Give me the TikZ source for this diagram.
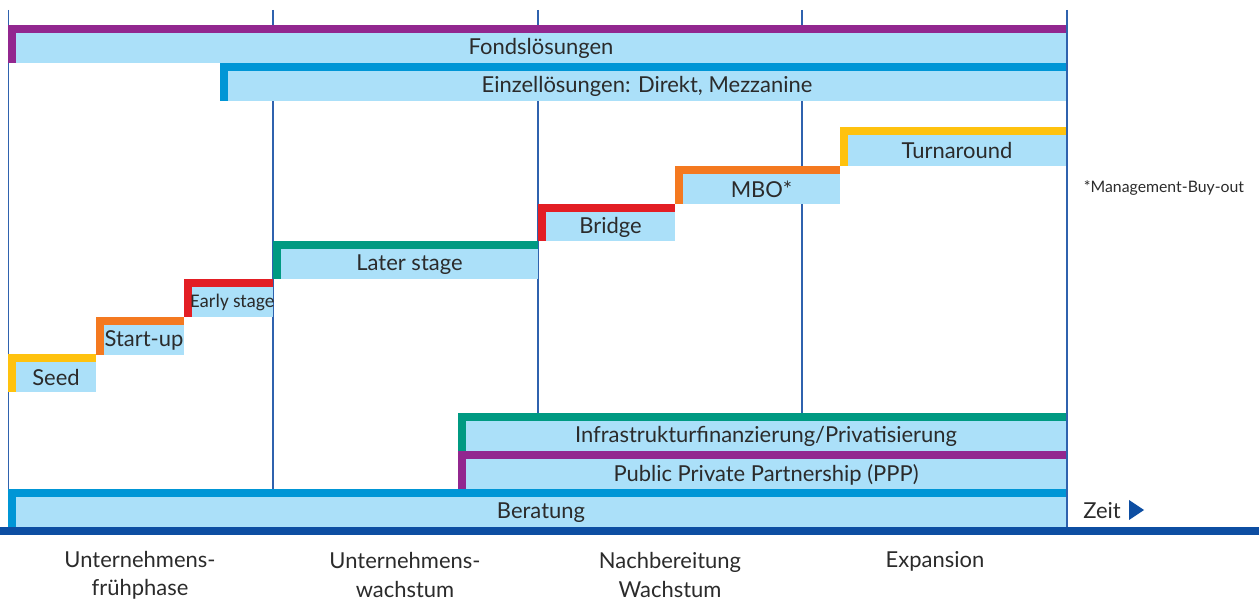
\documentclass[tikz,border=0pt]{standalone}
\usepackage{fontspec}
\setmainfont{Lato}
\newfontfamily\narrowfont{Carlito}
\usepackage{xcolor}
\usepackage{tikz}

\definecolor{barblue}{HTML}{ABE0F9}
\definecolor{cpurple}{HTML}{92278F}
\definecolor{cblue}{HTML}{0096D6}
\definecolor{cyellow}{HTML}{FFC20E}
\definecolor{corange}{HTML}{F47920}
\definecolor{cred}{HTML}{E31E24}
\definecolor{cteal}{HTML}{009A82}
\definecolor{gridblue}{HTML}{2F62AE}
\definecolor{darkblue}{HTML}{0D4EA2}
\definecolor{txt}{HTML}{2B2B2B}

% #1 name, #2 colour, #3 left, #4 top, #5 right, #6 bottom, #7 text
\newcommand{\phasebar}[7]{%
  \fill[barblue] (#3,#4) rectangle (#5,#6);
  \fill[#2] (#3,#4) rectangle (#5,#4+8);
  \fill[#2] (#3,#4) rectangle (#3+8,#6);
  \node[bartext] (#1) at ({(#3+8+#5)/2},{(#4+8+#6)/2+0.5}) {#7};
}

\begin{document}
\begin{tikzpicture}[
  x=0.02cm, y=-0.02cm,
  bartext/.style={inner sep=0pt, text=txt, font=\fontsize{12.5}{14}\selectfont},
  phase/.style={align=center, text=txt, font=\fontsize{12.5}{16}\selectfont},
  grid/.style={draw=gridblue, line width=1.1pt}
]
  \useasboundingbox (0,0) rectangle (1259,601);

  % grid
  \foreach \gx in {8.5,273,538,802,1067}
    \draw[grid] (\gx,10) -- (\gx,527);

  % bars
  \phasebar{fonds}{cpurple}{8}{25}{1066}{63}{Fondslösungen}
  \phasebar{einzel}{cblue}{220}{63}{1066}{101}{Einzellösungen: Direkt, Mezzanine}
  \phasebar{turn}{cyellow}{840}{127}{1066}{166}{Turnaround}
  \phasebar{mbo}{corange}{675}{166}{840}{204}{MBO*}
  \phasebar{bridge}{cred}{538}{204}{675}{241}{Bridge}
  \phasebar{later}{cteal}{273}{241}{538}{279}{Later stage}
  \phasebar{early}{cred}{184}{279}{273}{317}{\narrowfont\fontsize{11}{13}\selectfont Early stage}
  \phasebar{startup}{corange}{96}{317}{184}{355}{Start-up}
  \phasebar{seed}{cyellow}{8}{354}{96}{392}{Seed}
  \phasebar{infra}{cteal}{458}{413}{1066}{451}{Infrastrukturfinanzierung/Privatisierung}
  \phasebar{ppp}{cpurple}{458}{451}{1066}{489}{Public Private Partnership (PPP)}
  \phasebar{beratung}{cblue}{8}{489}{1066}{527}{Beratung}

  % time axis
  \fill[darkblue] (0,527) rectangle (1259,535);
  \node[bartext, anchor=west] (zeit) at (1083,511) {Zeit};
  \fill[darkblue] (1129,500) -- (1144,510) -- (1129,520) -- cycle;

  \node[text=txt, font=\fontsize{9}{11}\selectfont] (mbonote) at (1164,188) {*Management-Buy-out};

  % phases
  \node[phase] (ph1) at (140,575) {Unternehmens-\\frühphase};
  \node[phase] (ph2) at (405,575) {Unternehmens-\\wachstum};
  \node[phase] (ph3) at (670,575) {Nachbereitung\\Wachstum};
  \node[phase] (ph4) at (935,561) {Expansion};
\end{tikzpicture}
\end{document}
